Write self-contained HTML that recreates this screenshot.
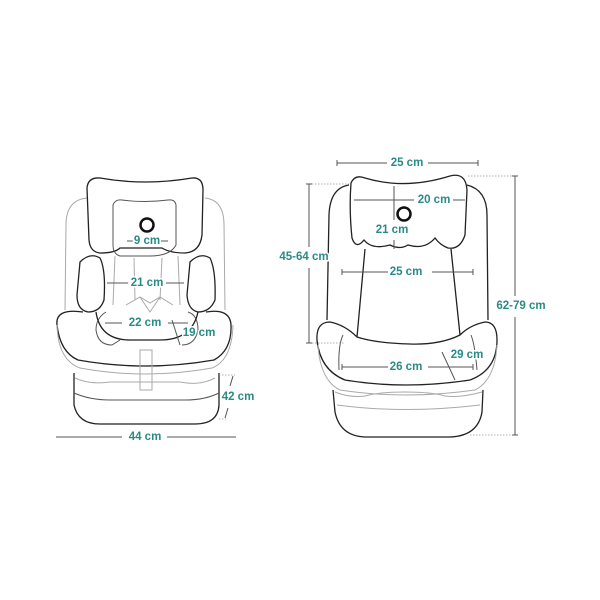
<!DOCTYPE html>
<html><head><meta charset="utf-8"><style>
html,body{margin:0;padding:0;background:#fff;width:600px;height:600px;overflow:hidden}
text{font-family:"Liberation Sans",sans-serif;font-weight:bold;font-size:11.5px;fill:#2a8a85;text-anchor:middle;dominant-baseline:middle;stroke:#fff;stroke-width:3px;paint-order:stroke}
.d{stroke:#222;stroke-width:1.3;fill:none}
.l{stroke:#aaa;stroke-width:1;fill:none}
.m{stroke:#555;stroke-width:1;fill:none}
.dot{stroke:#999;stroke-width:0.8;stroke-dasharray:1.5 1.5;fill:none}
</style></head><body>
<svg width="600" height="600" viewBox="0 0 600 600">
<!-- LEFT SEAT -->
<path class="l" d="M87,198 Q66,200 66,225 L65,310 M205,198 Q224,200 224,225 L225,310"/>
<path class="d" d="M87,188 Q88,177 100,178 Q145,186 192,178 Q203,177 203,190 L202,235 Q200,252 185,253 Q170,253 162,248 L120,248 Q115,253 100,253 Q90,252 89,240 Z"/>
<path class="m" d="M113,205 Q115,199 122,200 Q145,203 168,200 Q175,199 176,205 L176,245 Q170,256 150,256 L120,256 Q113,254 113,245 Z"/>
<circle cx="147" cy="225" r="6.5" fill="none" stroke="#111" stroke-width="2.5"/>
<path class="l" d="M115,256 L113,305 M178,256 L180,305 M134,258 L135,300 M162,258 L160,300"/>
<path class="d" d="M80,262 Q90,252 100,258 Q106,270 104,300 Q100,312 88,312 Q77,310 77,295 Z"/>
<path class="d" d="M190,262 Q200,252 210,258 Q216,270 215,300 Q210,312 198,312 Q188,310 187,295 Z"/>
<path class="l" d="M126,305 L140,297 L150,303 L160,297 L173,305 M140,297 L150,312 L160,297"/>
<path class="m" d="M106,312 Q96,318 96,330 Q98,345 112,345 L120,340 M182,345 Q195,345 198,330 Q198,315 188,312"/>
<path class="d" d="M83,312 Q55,308 57,325 Q60,352 78,360 Q145,372 214,360 Q232,350 231,325 Q230,308 206,312"/>
<path class="d" d="M96,312 Q100,340 130,340 L160,340 Q192,340 198,312"/>
<path class="l" d="M57,325 Q58,360 80,368 Q145,380 212,368 Q232,360 233,325"/>
<path class="l" d="M75,378 Q90,385 110,382 L180,382 Q200,386 215,378"/>
<rect x="140" y="350" width="12" height="40" fill="none" stroke="#aaa"/>
<path class="d" d="M74,373 L74,405 Q78,424 100,424 L195,424 Q218,424 219,405 L219,373"/>
<path class="m" d="M74,393 Q90,400 110,400 L185,400 Q205,400 219,393"/>
<!-- left dims -->
<line class="m" x1="127" y1="241" x2="137" y2="241"/><line class="m" x1="158" y1="241" x2="168" y2="241"/><text x="147" y="241">9 cm</text>
<line class="m" x1="107" y1="283" x2="128" y2="283"/><line class="m" x1="166" y1="283" x2="184" y2="283"/><text x="147" y="283">21 cm</text>
<line class="m" x1="105" y1="323" x2="122" y2="323"/><line class="m" x1="168" y1="323" x2="188" y2="323"/><text x="145" y="323">22 cm</text>
<line class="m" x1="172" y1="320" x2="180" y2="345"/><text x="199" y="333">19 cm</text>
<line class="dot" x1="219" y1="375" x2="235" y2="375"/><line class="dot" x1="219" y1="419" x2="226" y2="419"/>
<line class="m" x1="233" y1="376" x2="230" y2="386"/><line class="m" x1="228" y1="408" x2="225" y2="418"/><text x="238" y="397">42 cm</text>
<line class="m" x1="56" y1="437" x2="122" y2="437"/><line class="m" x1="167" y1="437" x2="236" y2="437"/><text x="145" y="437">44 cm</text>
<!-- RIGHT SEAT -->
<path class="d" d="M349,185 Q330,188 329,215 L327,320 M467,185 Q487,190 487,215 L488,320"/>
<path class="d" d="M351,183 Q355,174 365,178 Q405,190 450,176 Q466,172 467,190 L465,235 Q460,250 448,248 Q440,245 435,238 Q425,250 408,245 Q400,250 390,245 Q372,250 364,240 Q356,250 352,238 Q349,210 351,183 Z"/>
<circle cx="404" cy="214" r="6.5" fill="none" stroke="#111" stroke-width="2.5"/>
<path class="d" d="M365,249 L357,337 M451,249 L460,335"/>
<path class="d" d="M357,337 Q345,325 330,322 Q316,322 317,340 Q320,370 345,380 Q405,390 470,380 Q497,370 497,340 Q497,322 485,322 Q470,325 460,335 Q440,345 410,344 Q375,343 357,337 Z"/>
<path class="m" d="M343,335 Q338,345 339,370 M471,335 Q475,345 477,370"/>
<path class="l" d="M318,345 Q320,380 340,390 Q405,400 475,390 Q495,380 497,345"/>
<path class="l" d="M335,392 Q350,398 365,396 Q378,392 405,392 Q432,392 445,396 Q460,398 482,392 M337,405 Q405,414 480,405"/>
<path class="d" d="M333,390 L335,412 Q340,436 365,437 L450,437 Q478,436 482,412 L483,390"/>
<!-- right dims -->
<line class="m" x1="337" y1="163" x2="387" y2="163"/><line class="m" x1="428" y1="163" x2="478" y2="163"/><line class="m" x1="337" y1="160" x2="337" y2="166"/><line class="m" x1="478" y1="160" x2="478" y2="166"/><text x="407" y="163">25 cm</text>
<line class="m" x1="354" y1="200" x2="414" y2="200"/><line class="m" x1="453" y1="200" x2="465" y2="200"/><text x="434" y="200">20 cm</text>
<line class="m" x1="394" y1="186" x2="394" y2="220"/><line class="m" x1="394" y1="240" x2="394" y2="249"/><text x="392" y="230">21 cm</text>
<line class="m" x1="342" y1="272" x2="388" y2="272"/><line class="m" x1="432" y1="272" x2="473" y2="272"/><line class="m" x1="342" y1="269" x2="342" y2="275"/><line class="m" x1="473" y1="269" x2="473" y2="275"/><text x="406" y="272">25 cm</text>
<line class="m" x1="342" y1="367" x2="388" y2="367"/><line class="m" x1="428" y1="367" x2="473" y2="367"/><line class="m" x1="342" y1="364" x2="342" y2="370"/><line class="m" x1="473" y1="364" x2="473" y2="370"/><text x="406" y="367">26 cm</text>
<line class="m" x1="442" y1="352" x2="455" y2="380"/><text x="467" y="355">29 cm</text>
<line class="dot" x1="309" y1="184" x2="350" y2="184"/><line class="dot" x1="309" y1="343" x2="345" y2="343"/>
<line class="m" x1="309" y1="184" x2="309" y2="247"/><line class="m" x1="309" y1="268" x2="309" y2="343"/><line class="m" x1="306" y1="184" x2="312" y2="184"/><line class="m" x1="306" y1="343" x2="312" y2="343"/><text x="304" y="257">45-64 cm</text>
<line class="dot" x1="468" y1="176" x2="515" y2="176"/><line class="dot" x1="470" y1="435" x2="515" y2="435"/>
<line class="m" x1="515" y1="176" x2="515" y2="296"/><line class="m" x1="515" y1="317" x2="515" y2="435"/><line class="m" x1="512" y1="176" x2="518" y2="176"/><line class="m" x1="512" y1="435" x2="518" y2="435"/><text x="521" y="306">62-79 cm</text>
</svg>
</body></html>
